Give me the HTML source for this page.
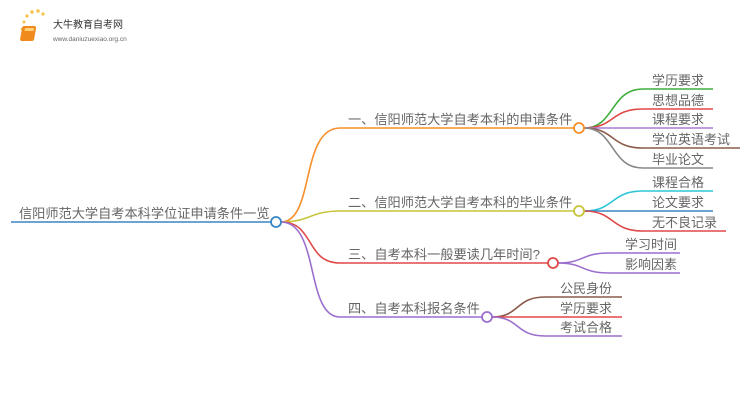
<!DOCTYPE html>
<html><head><meta charset="utf-8"><style>
html,body{margin:0;padding:0;background:#fff;width:750px;height:410px;overflow:hidden}
text{font-family:"Liberation Sans","Noto Sans CJK SC",sans-serif;fill:#666}
</style></head><body>
<svg width="750" height="410" viewBox="0 0 750 410" xmlns="http://www.w3.org/2000/svg">
<g>
<circle cx="24" cy="22" r="1.5" fill="#f7c24a"/><circle cx="27" cy="16" r="1.6" fill="#f7c24a"/>
<circle cx="32" cy="12" r="1.7" fill="#f7c24a"/><circle cx="38" cy="11" r="1.7" fill="#f7c24a"/>
<circle cx="43" cy="14" r="1.6" fill="#f7c24a"/><circle cx="22" cy="29" r="1.3" fill="#f7c24a"/>
<rect x="27" y="26" width="14" height="15" rx="2" fill="#f08a1c" transform="skewX(-10)"/>
<rect x="30" y="28" width="9" height="3" fill="#ffd27a" transform="skewX(-10)"/>
<text x="53" y="28" font-size="10" style="fill:#333">大牛教育自考网</text>
<text x="53" y="41" font-size="6.5" style="fill:#666">www.daniuzuexiao.org.cn</text>
</g>
<g fill="none" stroke-width="1.6">
<line x1="11" y1="222" x2="271" y2="222" stroke="#3a86c4"/>
<path d="M281 222 C315 222 300 128 340 128 L574 128" stroke="#f7902a"/>
<path d="M281 222 C310 222 310 211 340 211 L574 211" stroke="#c8c43a"/>
<path d="M281 222 C315 222 305 263 340 263 L548 263" stroke="#e04848"/>
<path d="M281 222 C320 222 305 317 340 317 L482 317" stroke="#9b6fce"/>
<path d="M584 128 C615 128 610 89 643 89 L713 89" stroke="#3fae3a"/>
<path d="M584 128 C615 128 610 109 643 109 L713 109" stroke="#e04848"/>
<path d="M584 128 L713 128" stroke="#a97cd6"/>
<path d="M584 128 C615 128 610 148 643 148 L740 148" stroke="#8b5a4a"/>
<path d="M584 128 C615 128 610 168 643 168 L713 168" stroke="#888"/>
<path d="M584 211 C615 211 610 191 643 191 L713 191" stroke="#2ec6d6"/>
<path d="M584 211 L713 211" stroke="#3a86c4"/>
<path d="M584 211 C615 211 610 231 643 231 L726 231" stroke="#e04848"/>
<path d="M558 263 C585 263 580 253 610 253 L680 253" stroke="#9b6fce"/>
<path d="M558 263 C585 263 580 273 610 273 L680 273" stroke="#9b6fce"/>
<path d="M492 317 C520 317 515 297 545 297 L622 297" stroke="#8b5a4a"/>
<path d="M492 317 L622 317" stroke="#e04848"/>
<path d="M492 317 C520 317 515 336 545 336 L622 336" stroke="#9b6fce"/>
</g>
<g fill="#fff" stroke-width="1.8">
<circle cx="276" cy="222" r="5" stroke="#3a86c4"/>
<circle cx="579" cy="128" r="5" stroke="#f7902a"/>
<circle cx="579" cy="211" r="5" stroke="#c8c43a"/>
<circle cx="553" cy="263" r="5" stroke="#e04848"/>
<circle cx="487" cy="317" r="5" stroke="#9b6fce"/>
</g>
<g font-size="13.2">
<text x="19" y="218">信阳师范大学自考本科学位证申请条件一览</text>
<text x="348" y="124">一、信阳师范大学自考本科的申请条件</text>
<text x="348" y="207">二、信阳师范大学自考本科的毕业条件</text>
<text x="348" y="259">三、自考本科一般要读几年时间?</text>
<text x="348" y="313">四、自考本科报名条件</text>
</g>
<g font-size="13">
<text x="652" y="85">学历要求</text>
<text x="652" y="105">思想品德</text>
<text x="652" y="124">课程要求</text>
<text x="652" y="144">学位英语考试</text>
<text x="652" y="164">毕业论文</text>
<text x="652" y="187">课程合格</text>
<text x="652" y="207">论文要求</text>
<text x="652" y="227">无不良记录</text>
<text x="625" y="249">学习时间</text>
<text x="625" y="269">影响因素</text>
<text x="560" y="293">公民身份</text>
<text x="560" y="313">学历要求</text>
<text x="560" y="332">考试合格</text>
</g>
</svg>
</body></html>
